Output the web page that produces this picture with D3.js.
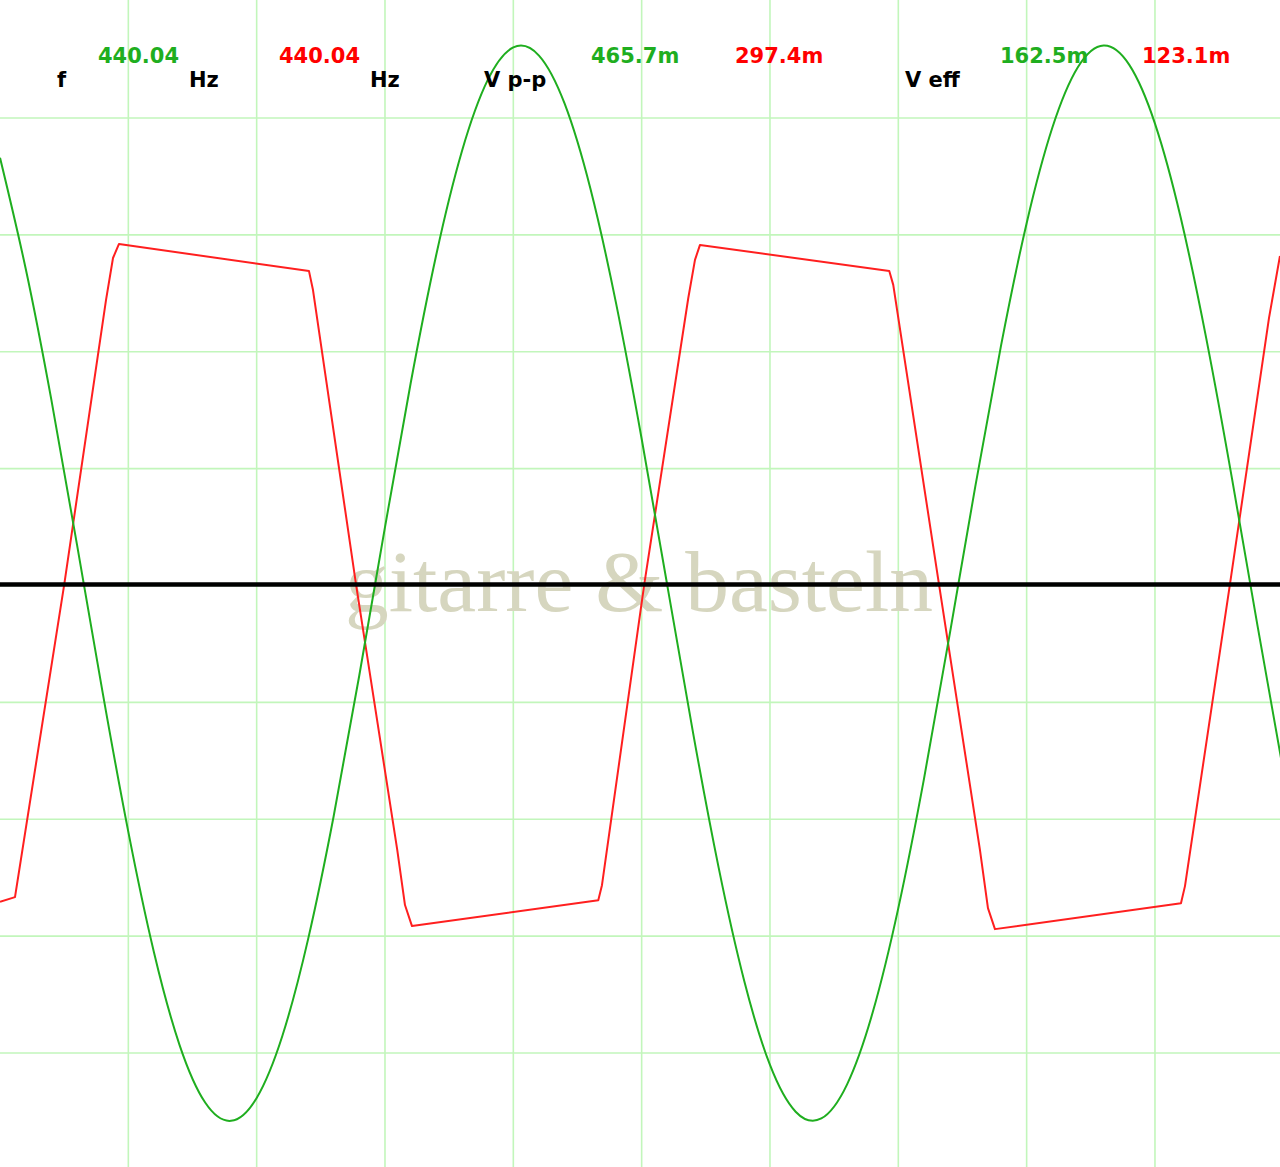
<!DOCTYPE html>
<html>
<head>
<meta charset="utf-8">
<script src="https://cdn.jsdelivr.net/npm/d3@7/dist/d3.min.js"></script>
<style>
  html, body { margin: 0; padding: 0; background: #ffffff; }
  svg { display: block; }
</style>
</head>
<body>
<script>
// ---------- data (time in ms, voltage in mV; 0.5 ms/div, 50 mV/div) ----------
const timeTicks = [0.5, 1.0, 1.5, 2.0, 2.5, 3.0, 3.5, 4.0, 4.5];
const voltTicks = [-200, -150, -100, -50, 0, 50, 100, 150, 200];

const greenTime = [0.0,0.1,0.2,0.3,0.4,0.5,0.6,0.7,0.8,0.9,1.0,1.1,1.2,1.3,1.4,1.5,1.6,1.7,1.8,1.9,
  2.0,2.1,2.2,2.3,2.4,2.5,2.6,2.7,2.8,2.9,3.0,3.1,3.2,3.3,3.4,3.5,3.6,3.7,3.8,3.9,
  4.0,4.1,4.2,4.3,4.4,4.5,4.6,4.7,4.8,4.9,5.0];
const greenVolts = [183.0,135.6,79.5,17.5,-45.8,-105.4,-157.0,-196.7,-221.3,-229.0,-219.2,-192.7,-151.5,-98.7,-38.4,25.0,86.5,141.6,185.9,216.2,
  230.2,226.7,206.1,169.9,120.9,62.8,0.0,-62.8,-120.7,-169.3,-205.1,-225.1,-228.0,-213.5,-182.7,-138.0,-82.7,-21.0,42.4,102.5,
  155.0,195.8,221.8,231.0,222.7,197.6,157.5,105.6,45.8,-17.5,-79.4];

const redTime = [0.0,0.0584,0.2505,0.4130,0.4403,0.4636,1.2039,1.2195,1.3870,1.5479,1.5779,1.6052,
  2.3310,2.3454,2.5103,2.6817,2.7078,2.7273,3.4648,3.4803,3.6584,3.8182,3.8493,3.8766,
  4.6013,4.6169,4.7922,4.9442,4.9870];
const redVolts = [-135.3,-133.3,0.6,122.1,140.1,146.1,134.5,126.4,0.6,-113.2,-136.7,-145.7,
  -134.6,-128.2,0.6,123.0,139.3,145.7,134.5,128.6,0.6,-113.2,-138.0,-147.0,
  -135.9,-128.6,0.6,114.4,141.0];

const referenceLevel = [0];

const measureNames  = ["f", "V p-p", "V eff"];
const greenReadings = ["440.04", "465.7m", "162.5m"];
const redReadings   = ["440.04", "297.4m", "123.1m"];
const readingUnits  = ["Hz", "", ""];

const watermarkText = "gitarre & basteln";

// ---------- layout ----------
const W = 1280, H = 1167;
const svg = d3.select("body").append("svg").attr("width", W).attr("height", H);
svg.append("rect").attr("width", W).attr("height", H).attr("fill", "#ffffff");

const x = d3.scaleLinear().domain([0, 5]).range([0, 1283.3]);
const y = d3.scaleLinear().domain([-250, 250]).range([1169.9, 1.1]);

// grid
const gridColor = "#c2f6bb";
svg.append("g").selectAll("line.v").data(timeTicks).join("line")
  .attr("x1", d => x(d)).attr("x2", d => x(d))
  .attr("y1", 0).attr("y2", H)
  .attr("stroke", gridColor).attr("stroke-width", 1.6);
svg.append("g").selectAll("line.h").data(voltTicks).join("line")
  .attr("x1", 0).attr("x2", W)
  .attr("y1", d => y(d)).attr("y2", d => y(d))
  .attr("stroke", gridColor).attr("stroke-width", 1.6);

// watermark
svg.append("text")
  .attr("x", 345).attr("y", 611)
  .attr("font-family", "'Liberation Serif', 'Times New Roman', serif")
  .attr("font-size", 87.5)
  .attr("fill", "#d6d6bf")
  .text(watermarkText);

// traces
const green = greenTime.map((t, i) => [t, greenVolts[i]]);
const red = redTime.map((t, i) => [t, redVolts[i]]);

svg.append("path").datum(red)
  .attr("d", d3.line().x(d => x(d[0])).y(d => y(d[1])).curve(d3.curveLinear))
  .attr("fill", "none").attr("stroke", "#ff1f1f").attr("stroke-width", 2)
  .attr("stroke-linejoin", "round");

svg.append("path").datum(green)
  .attr("d", d3.line().x(d => x(d[0])).y(d => y(d[1])).curve(d3.curveNatural))
  .attr("fill", "none").attr("stroke", "#1fae1f").attr("stroke-width", 2);

// reference (zero) line
svg.append("g").selectAll("line").data(referenceLevel).join("line")
  .attr("x1", 0).attr("x2", W)
  .attr("y1", d => y(d) - 1).attr("y2", d => y(d) - 1)
  .attr("stroke", "#000000").attr("stroke-width", 4.5);

// readouts
const font = "'DejaVu Sans', Verdana, sans-serif";
const nameX = [57, 484, 905];
const greenX = [98, 591, 1000];
const redX = [279, 735, 1142];
const greenUnitX = [189, null, null];
const redUnitX = [370, null, null];
const valueBase = 63, nameBase = 87, fsize = 21;

function addText(tx, ty, str, color) {
  svg.append("text").attr("x", tx).attr("y", ty)
    .attr("font-family", font).attr("font-weight", "bold")
    .attr("font-size", fsize).attr("fill", color).text(str);
}
measureNames.forEach((n, i) => {
  addText(nameX[i], nameBase, n, "#000000");
  addText(greenX[i], valueBase, greenReadings[i], "#1fae1f");
  addText(redX[i], valueBase, redReadings[i], "#ff0000");
  if (readingUnits[i]) {
    addText(greenUnitX[i], nameBase, readingUnits[i], "#000000");
    addText(redUnitX[i], nameBase, readingUnits[i], "#000000");
  }
});
</script>
</body>
</html>
